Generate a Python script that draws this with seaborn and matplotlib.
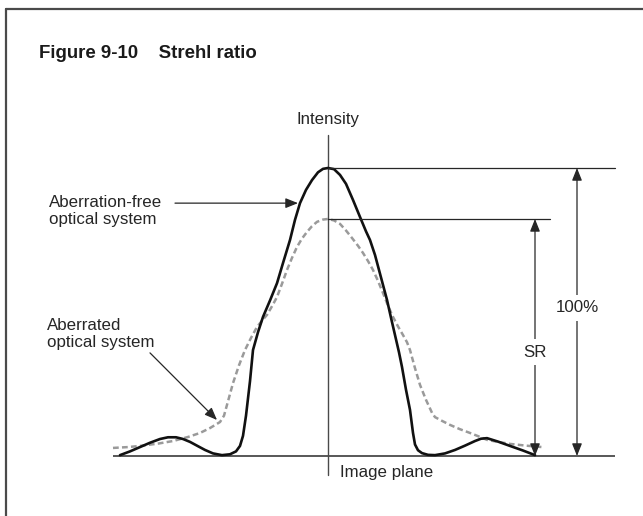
import matplotlib
matplotlib.use("Agg")
import matplotlib.pyplot as plt
from matplotlib.lines import Line2D
import seaborn as sns

# Position across the image plane (offset from the optical axis) and
# relative intensity (%) of each point spread profile.
free_x = [-208, -198, -188, -178, -168, -160, -152, -145, -138, -130, -123,
          -115, -106, -98, -92, -88, -85, -82, -78, -75, -70, -65, -58, -51,
          -45, -38, -33, -28, -22, -16, -10, -5, 0, 6, 12, 18, 25, 32, 38, 42,
          47, 53, 59, 63, 67, 71, 74, 78, 82, 85, 87, 90, 94, 100, 107, 117,
          127, 137, 147, 153, 159, 170, 182, 195, 207]
free_y = [0.3, 1.6, 3.1, 4.6, 5.9, 6.5, 6.5, 5.9, 4.9, 3.4, 2.1, 0.9, 0.3,
          0.6, 1.6, 3.5, 7.0, 14.0, 26.0, 36.8, 43.0, 48.3, 54.0, 60.0, 67.0,
          75.0, 82.0, 87.8, 92.4, 95.8, 98.5, 99.7, 100.0, 99.6, 97.6, 94.5,
          88.9, 83.0, 78.0, 75.0, 69.8, 62.0, 54.2, 48.0, 42.0, 36.0, 30.9,
          23.0, 16.0, 8.0, 4.0, 2.0, 1.0, 0.4, 0.3, 0.9, 2.1, 3.6, 5.2, 6.0,
          6.2, 5.0, 3.5, 1.9, 0.3]

aber_x = [-215, -200, -188, -170, -155, -140, -128, -118, -108, -104, -100,
          -95, -89, -83, -77, -71, -66, -61, -56, -51, -46, -41, -36, -31,
          -26, -21, -16, -11, -5, 0, 6, 12, 18, 24, 30, 35, 40, 45, 50, 55,
          60, 65, 70, 75, 79, 82, 87, 92, 98, 104, 107, 114, 122, 132, 142,
          150, 159, 170, 182, 198, 214]
aber_y = [2.8, 3.1, 3.5, 4.3, 5.2, 6.6, 8.0, 9.7, 11.8, 14.0, 19.0, 25.3,
          31.5, 36.8, 41.0, 44.8, 47.0, 49.0, 52.0, 55.2, 59.8, 64.6, 68.8,
          72.6, 75.5, 77.8, 79.8, 81.3, 82.1, 82.3, 81.8, 80.6, 78.3, 75.7,
          73.0, 70.5, 67.7, 64.6, 60.8, 56.6, 52.2, 48.3, 45.0, 42.0, 39.5,
          36.8, 30.5, 24.7, 19.5, 15.0, 13.5, 12.2, 10.8, 9.3, 8.0, 6.9, 5.6,
          4.9, 4.2, 3.6, 3.1]

labels = {"free": "Aberration-free\noptical system",
          "aber": "Aberrated\noptical system"}

W, H = 643, 516
sns.set_theme(style="white")
plt.rcParams["font.family"] = ["Liberation Sans", "DejaVu Sans"]

fig = plt.figure(figsize=(W / 100, H / 100), dpi=100)
ax = fig.add_axes([0, 0, 1, 1])
ax.set_xlim(-328, W - 328)
ax.set_ylim(-(H - 456) / 2.88, 456 / 2.88)
ax.axis("off")

TXT = "#262626"
FS = 12.2

# outer frame (top and left edges)
frame_kw = dict(color="#4a4a4a", lw=1.6, transform=fig.transFigure)
fig.add_artist(Line2D([6 / W, 6 / W], [0, 1 - 9 / H], **frame_kw))
fig.add_artist(Line2D([6 / W, 1], [1 - 9 / H, 1 - 9 / H], **frame_kw))

fig.text(39 / W, 1 - 53 / H, "Figure 9-10    Strehl ratio",
         fontsize=13.4, fontweight="bold", color="#1a1a1a",
         ha="left", va="center")

# axes of the diagram
ax.plot([-215, 287], [0, 0], color="#4a4a4a", lw=1.3, solid_capstyle="butt")
ax.plot([0, 0], [-6.6, 111.5], color="#4a4a4a", lw=1.0)
ax.text(0, 116.7, "Intensity", ha="center", va="center", fontsize=FS,
        color=TXT)
ax.text(12, -5.9, "Image plane", ha="left", va="center", fontsize=FS,
        color=TXT)

# intensity profiles
sns.lineplot(x=aber_x, y=aber_y, ax=ax, sort=False, color="#9a9a9a",
             lw=1.8, linestyle=(0, (2.3, 1.3)))
sns.lineplot(x=free_x, y=free_y, ax=ax, sort=False, color="#111111", lw=1.9)

peak_free = max(free_y)
peak_aber = max(aber_y)

# reference lines at both peaks
ax.plot([0, 287], [peak_free, peak_free], color=TXT, lw=0.9)
ax.plot([0, 222], [peak_aber, peak_aber], color=TXT, lw=0.9)

arrow2 = dict(arrowstyle="<|-|>,head_length=0.75,head_width=0.3",
              mutation_scale=10, color=TXT, lw=0.9, shrinkA=0, shrinkB=0)
ax.annotate("", xy=(249, peak_free), xytext=(249, 0), arrowprops=arrow2)
ax.annotate("", xy=(207, peak_aber), xytext=(207, 0), arrowprops=arrow2)
box = dict(boxstyle="square,pad=0.3", fc="white", ec="none")
ax.text(249, 51.4, "100%", ha="center", va="center", fontsize=FS,
        color=TXT, bbox=box)
ax.text(207, 36.1, "SR", ha="center", va="center", fontsize=FS,
        color=TXT, bbox=box)

# callouts
arrow1 = dict(arrowstyle="-|>,head_length=0.75,head_width=0.3",
              mutation_scale=10, color=TXT, lw=0.9, shrinkA=0, shrinkB=0)
ax.annotate("", xy=(-30, 87.8), xytext=(-153, 87.8), arrowprops=arrow1)
ax.text(-279, 85.1, labels["free"], ha="left", va="center", fontsize=FS,
        color=TXT, linespacing=1.12)
ax.annotate("", xy=(-111, 12.5), xytext=(-178, 35.8), arrowprops=arrow1)
ax.text(-281, 42.4, labels["aber"], ha="left", va="center", fontsize=FS,
        color=TXT, linespacing=1.12)

fig.savefig("out.png", dpi=100, facecolor="white")
